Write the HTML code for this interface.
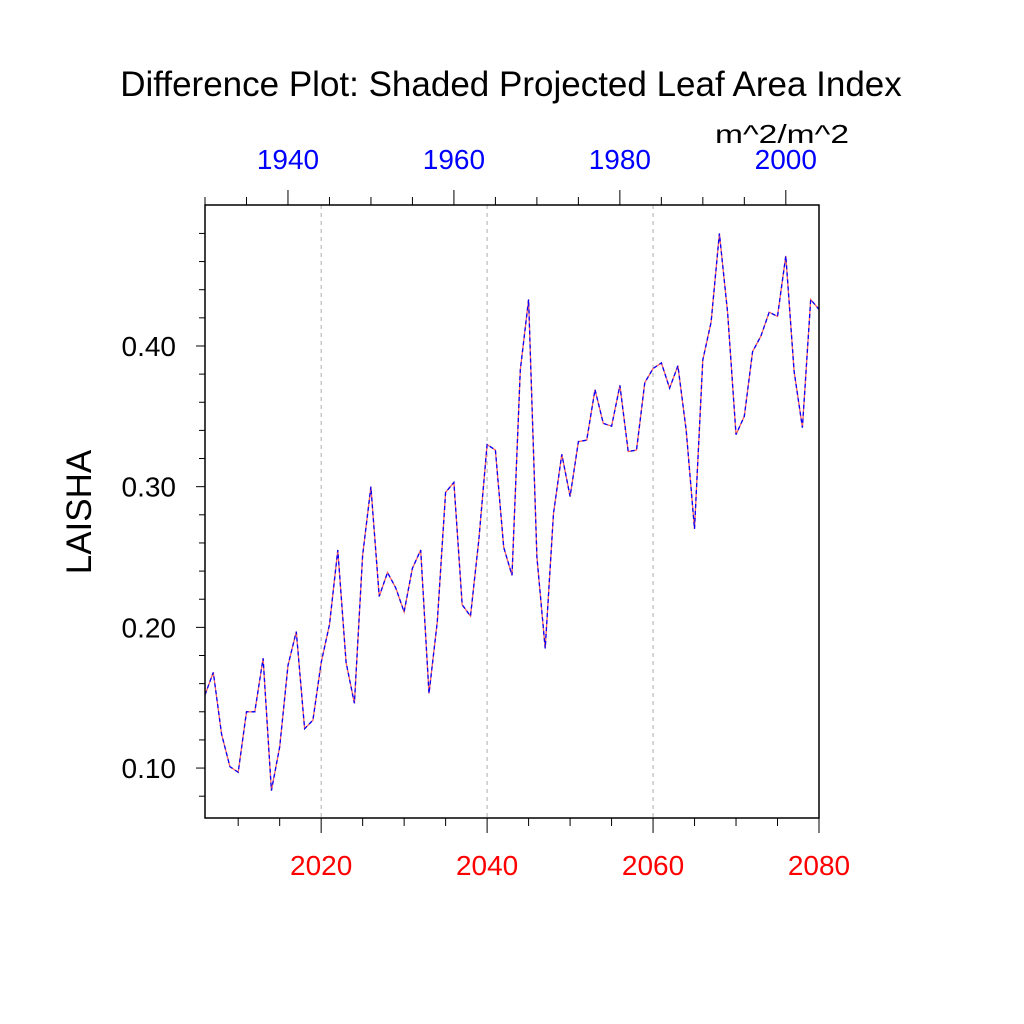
<!DOCTYPE html>
<html><head><meta charset="utf-8"><style>
body{margin:0;background:#fff}
svg{display:block;font-family:"Liberation Sans",sans-serif}
</style></head><body>
<svg id="chart" width="1024" height="1024" viewBox="0 0 1024 1024">
<text x="511" y="96" font-size="35" text-anchor="middle">Difference Plot: Shaded Projected Leaf Area Index</text>
<text x="715" y="143" font-size="26" textLength="134" lengthAdjust="spacingAndGlyphs">m^2/m^2</text>
<text x="91" y="512" font-size="35" text-anchor="middle" transform="rotate(-90 91 512)">LAISHA</text>
<g id="grid"></g>
<g id="series"></g>
<g id="axes"></g>
</svg>
<script>
const years=[2006,2007,2008,2009,2010,2011,2012,2013,2014,2015,2016,2017,2018,2019,2020,2021,2022,2023,2024,2025,2026,2027,2028,2029,2030,2031,2032,2033,2034,2035,2036,2037,2038,2039,2040,2041,2042,2043,2044,2045,2046,2047,2048,2049,2050,2051,2052,2053,2054,2055,2056,2057,2058,2059,2060,2061,2062,2063,2064,2065,2066,2067,2068,2069,2070,2071,2072,2073,2074,2075,2076,2077,2078,2079,2080];
const values=[0.152,0.168,0.124,0.101,0.097,0.140,0.140,0.178,0.084,0.115,0.173,0.197,0.128,0.134,0.175,0.202,0.255,0.175,0.146,0.251,0.300,0.222,0.239,0.228,0.211,0.242,0.255,0.153,0.204,0.296,0.303,0.216,0.208,0.262,0.330,0.326,0.257,0.237,0.383,0.433,0.250,0.185,0.281,0.323,0.293,0.332,0.333,0.369,0.345,0.343,0.372,0.325,0.326,0.374,0.384,0.388,0.370,0.386,0.340,0.270,0.390,0.417,0.480,0.423,0.337,0.350,0.396,0.407,0.424,0.421,0.464,0.382,0.342,0.433,0.426];
const bottomTicks=[2020,2040,2060,2080];
const topTicks=[1940,1960,1980,2000];
const yTicks=[0.10,0.20,0.30,0.40];
const yTickLabels=["0.10","0.20","0.30","0.40"];
const X0=205,X1=819,Y0=205,Y1=818;
const xMin=2006,xMax=2080,yMin=0.0645,yMax=0.5002;
const topOffset=76;
function sx(v){return X0+(v-xMin)/(xMax-xMin)*(X1-X0);}
function sy(v){return Y1-(v-yMin)/(yMax-yMin)*(Y1-Y0);}
const NS="http://www.w3.org/2000/svg";
function mk(tag,attrs,parent){const e=document.createElementNS(NS,tag);for(const k in attrs)e.setAttribute(k,attrs[k]);parent.appendChild(e);return e;}
const grid=document.getElementById('grid'),series=document.getElementById('series'),axes=document.getElementById('axes');
bottomTicks.slice(0,3).forEach(t=>{const l=mk('line',{x1:sx(t),x2:sx(t),y1:Y0,y2:Y1,stroke:'#bbb','stroke-width':1.2,'stroke-dasharray':'4 4'},grid);

});
const pts=years.map((y,i)=>sx(y).toFixed(1)+','+sy(values[i]).toFixed(1)).join(' ');
const l1=mk('polyline',{points:pts,fill:'none',stroke:'#ff6060','stroke-width':1.3},series);


const l2=mk('polyline',{points:pts,fill:'none',stroke:'#0000ff','stroke-width':1.3,'stroke-dasharray':'4 3'},series);


const fr=mk('rect',{x:X0,y:Y0,width:X1-X0,height:Y1-Y0,fill:'none',stroke:'#000','stroke-width':1.5},axes);


for(let y=2010;y<=2080;y+=5){const major=(y%20===0);const x=sx(y);
 const t=mk('line',{x1:x,x2:x,y1:Y1,y2:Y1+(major?15:8),stroke:'#000','stroke-width':1},axes);
 
 }
bottomTicks.forEach(t=>{const e=mk('text',{x:sx(t),y:Y1+57,'font-size':28,fill:'#ff0000','text-anchor':'middle'},axes);e.textContent=t;
 
 });
for(let y=2006;y<=2080;y+=5){const ty=y-topOffset;const major=(ty%20===0);const x=sx(y);
 const t=mk('line',{x1:x,x2:x,y1:Y0,y2:Y0-(major?15:8),stroke:'#000','stroke-width':1},axes);
 
 }
topTicks.forEach(t=>{const e=mk('text',{x:sx(t+topOffset),y:169,'font-size':28,fill:'#0000ff','text-anchor':'middle'},axes);e.textContent=t;
 
 });
for(let i=4;i<=48;i+=2){const v=i/100;if(v<yMin||v>yMax)continue;const major=(i%10===0);const y=sy(v);
 const t=mk('line',{x1:X0,x2:X0-(major?9:6),y1:y,y2:y,stroke:'#000','stroke-width':1},axes);
 
 }
yTicks.forEach((v,i)=>{const e=mk('text',{x:X0-29,y:sy(v)+10,'font-size':28,'text-anchor':'end'},axes);e.textContent=yTickLabels[i];
 
 });
</script>
</body></html>
